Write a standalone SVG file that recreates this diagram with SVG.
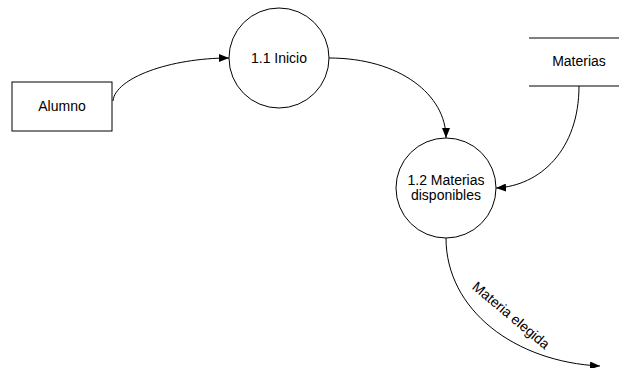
<svg xmlns="http://www.w3.org/2000/svg" width="619" height="368" viewBox="0 0 619 368">
  <style>
    .shape { fill: #ffffff; stroke: #000000; stroke-width: 1; }
    .flow { fill: none; stroke: #000000; stroke-width: 1; marker-end: url(#arrow); }
    .label { font-family: "Liberation Sans", Arial, sans-serif; font-size: 14px; fill: #000000; text-anchor: middle; }
  </style>
  <defs>
    <marker id="arrow" viewBox="0 0 10 8" refX="10" refY="4" markerWidth="10" markerHeight="8" markerUnits="userSpaceOnUse" orient="auto">
      <path d="M0,0 L10,4 L0,8 Z" fill="#000000"/>
    </marker>
  </defs>
  <rect width="619" height="368" fill="#ffffff"/>

  <g id="connectors">
    <path class="flow" d="M113,101 C115,78 170,58 229,58"/>
    <path class="flow" d="M329,58 C400,58 446,95 446,138"/>
    <path class="flow" d="M579,86 C579,150 540,186 496,188"/>
    <path class="flow" d="M446,238 C446,310 515,362 600,366"/>
    <text class="label" transform="translate(508,319) rotate(40)">Materia elegida</text>
  </g>

  <g id="alumno">
    <rect class="shape" x="12" y="82" width="100" height="49"/>
    <text class="label" x="62" y="111">Alumno</text>
  </g>

  <g id="inicio">
    <circle class="shape" cx="279" cy="58" r="50"/>
    <text class="label" x="279" y="63">1.1 Inicio</text>
  </g>

  <g id="materias-disponibles">
    <circle class="shape" cx="446" cy="188" r="50"/>
    <text class="label" x="446" y="185">1.2 Materias</text>
    <text class="label" x="446" y="200">disponibles</text>
  </g>

  <g id="materias">
    <line class="shape" x1="529" y1="38" x2="619" y2="38"/>
    <line class="shape" x1="529" y1="86" x2="619" y2="86"/>
    <text class="label" x="579" y="66">Materias</text>
  </g>
</svg>
